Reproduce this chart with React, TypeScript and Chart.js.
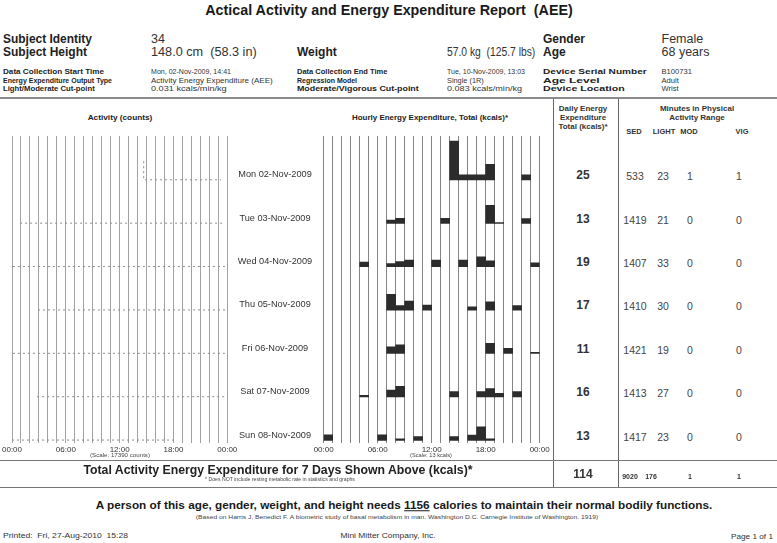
import React, { useEffect, useRef } from 'react';
import { Chart, registerables } from 'chart.js';

Chart.register(...registerables);

const FONT = '"Liberation Sans", Arial, Helvetica, sans-serif';

// ---------- data ----------
const dayLabels = [
  'Mon 02-Nov-2009',
  'Tue 03-Nov-2009',
  'Wed 04-Nov-2009',
  'Thu 05-Nov-2009',
  'Fri 06-Nov-2009',
  'Sat 07-Nov-2009',
  'Sun 08-Nov-2009',
];
const hourTickLabels = ['00:00', '06:00', '12:00', '18:00', '00:00'];

// Hourly energy expenditure: [hour of day, kcals]
const kcalMon = [[14, 13.0], [15, 1.7], [16, 1.7], [17, 1.7], [18, 5.2], [22, 1.7]];
const kcalTue = [[7, 1.1], [8, 1.7], [13, 1.7], [18, 6.0], [19, 0.3], [22, 1.6]];
const kcalWed = [[4, 1.6], [7, 1.1], [8, 1.7], [9, 2.2], [12, 2.2], [15, 2.2], [17, 3.3], [18, 2.0], [23, 1.3]];
const kcalThu = [[7, 5.3], [8, 1.5], [9, 3.0], [11, 1.7], [16, 1.1], [18, 2.8], [21, 1.5]];
const kcalFri = [[7, 2.2], [8, 2.9], [18, 3.4], [20, 1.7], [23, 0.4]];
const kcalSat = [[4, 0.5], [7, 2.3], [8, 3.5], [14, 1.8], [17, 1.8], [18, 2.8], [19, 1.2], [21, 1.8]];
const kcalSun = [[0, 1.8], [6, 1.8], [8, 0.5], [10, 1.2], [14, 1.2], [16, 1.7], [17, 4.5], [18, 0.5]];
const hourlyKcal = [kcalMon, kcalTue, kcalWed, kcalThu, kcalFri, kcalSat, kcalSun];

// Activity counts: [hour of day, counts]
const countsMon = [[14.68, 8400], [14.68, 100], [23.3, 100]];
const countsTue = [[0.9, 100], [23.5, 100]];
const countsWed = [[0.1, 100], [23.9, 100]];
const countsThu = [[2.9, 100], [23.9, 100]];
const countsFri = [[0.1, 100], [23.9, 100]];
const countsSat = [[2.8, 100], [23.9, 100]];
const countsSun = [[0.0, 100], [18.3, 100]];
const activityCounts = [countsMon, countsTue, countsWed, countsThu, countsFri, countsSat, countsSun];

const COUNT_SCALE = 17390;
const KCAL_SCALE = 13;

// Table
const dailyKcal = [25, 13, 19, 17, 11, 16, 13];
const sedMin = [533, 1419, 1407, 1410, 1421, 1413, 1417];
const lightMin = [23, 21, 33, 30, 19, 27, 23];
const modMin = [1, 0, 0, 0, 0, 0, 0];
const vigMin = [1, 0, 0, 0, 0, 0, 0];
const totalKcal = 114;
const totalSed = 9020;
const totalLight = 176;
const totalMod = 1;
const totalVig = 1;

// ---------- layout helpers ----------
const ROW = 14.46; // one day band, in kcal units
const Y_MIN = -0.9;
const Y_MAX = 6 * ROW + 14.67;
const rowBase = (d: number) => (6 - d) * ROW;
const HOURS = Array.from({ length: 24 }, (_, i) => String(i));

const PLOT_H = 307;
const AXIS_H = 14;
const DAY_Y = [175, 218.5, 262, 305, 348.5, 392, 435.5];

function xAxis(gridColor: string) {
  return {
    type: 'linear',
    min: 0,
    max: 24,
    position: 'bottom',
    offset: false,
    grid: { color: gridColor, lineWidth: 1, drawTicks: false, offset: false },
    border: { display: false },
    ticks: {
      stepSize: 1,
      autoSkip: false,
      maxRotation: 0,
      minRotation: 0,
      padding: 2,
      color: '#333',
      font: { family: FONT, size: 8 },
      callback: (v: number) => (v % 6 === 0 ? hourTickLabels[v / 6] : ''),
    },
    afterFit: (s: any) => {
      s.height = AXIS_H;
    },
  };
}

const yAxis = { type: 'linear', min: Y_MIN, max: Y_MAX, display: false };

let measureCtx: CanvasRenderingContext2D | null = null;
function measure(text: string, size: number, bold?: boolean) {
  if (!measureCtx) measureCtx = document.createElement('canvas').getContext('2d');
  if (!measureCtx) return 0;
  measureCtx.font = `${bold ? 'bold ' : ''}${size}px ${FONT}`;
  return measureCtx.measureText(text).width;
}

type TP = {
  x: number;
  y: number;
  s: number;
  b?: boolean;
  a?: 'left' | 'center' | 'right';
  c?: string;
  w?: number;
  text?: string;
  children: React.ReactNode;
};
const T = ({ x, y, s, b, a = 'left', c = '#222', w, text, children }: TP) => {
  let k = 1;
  if (w) {
    const str = text ?? (typeof children === 'string' ? children : String(children));
    const m = measure(str, s, b);
    if (m > 0) k = w / m;
  }
  const tx = a === 'center' ? '-50%' : a === 'right' ? '-100%' : '0';
  const origin = a === 'center' ? '50% 50%' : a === 'right' ? '100% 50%' : '0 50%';
  return (
    <div
      style={{
        position: 'absolute',
        left: x,
        top: y,
        fontSize: s,
        fontWeight: b ? 'bold' : 'normal',
        color: c,
        whiteSpace: 'pre',
        lineHeight: 1,
        fontFamily: FONT,
        transformOrigin: origin,
        transform: `translate(${tx}, -50%) scaleX(${k})`,
      }}
    >
      {children}
    </div>
  );
};

const HLine = ({ y, x1, x2, w = 1, c = '#777' }: any) => (
  <div style={{ position: 'absolute', left: x1, top: y, width: x2 - x1, height: w, background: c }} />
);
const VLine = ({ x, y1, y2, w = 1, c = '#777' }: any) => (
  <div style={{ position: 'absolute', left: x, top: y1, width: w, height: y2 - y1, background: c }} />
);

const BMR_TEXT =
  'A person of this age, gender, weight, and height needs 1156 calories to maintain their normal bodily functions.';

export default function App() {
  const leftRef = useRef<HTMLCanvasElement>(null);
  const rightRef = useRef<HTMLCanvasElement>(null);

  useEffect(() => {
    const left = new Chart(leftRef.current as HTMLCanvasElement, {
      type: 'line',
      data: {
        datasets: activityCounts.map((pts, d) => ({
          label: dayLabels[d],
          data: pts.map(([h, c]) => ({ x: h, y: rowBase(d) + (c / COUNT_SCALE) * KCAL_SCALE })),
          borderColor: '#8d8d8d',
          borderWidth: 1,
          borderDash: [2, 3],
          pointRadius: 0,
          tension: 0,
          fill: false,
        })),
      },
      options: {
        animation: false,
        responsive: false,
        devicePixelRatio: 1,
        layout: { padding: { left: 11.7, right: 240 - 227.3, top: 0, bottom: 0 } },
        plugins: { legend: { display: false }, tooltip: { enabled: false } },
        scales: { x: xAxis('#a2a2a2'), y: yAxis } as any,
      },
    } as any);

    const right = new Chart(rightRef.current as HTMLCanvasElement, {
      type: 'bar',
      data: {
        labels: HOURS,
        datasets: hourlyKcal.map((pairs, d) => ({
          label: dayLabels[d],
          xAxisID: 'xb',
          yAxisID: 'y',
          data: HOURS.map((_, h) => {
            const p = pairs.find((q) => q[0] === h);
            return p ? [rowBase(d), rowBase(d) + p[1]] : null;
          }),
          backgroundColor: '#2c2c2c',
          borderWidth: 0,
          barPercentage: 1,
          categoryPercentage: 1,
          grouped: false,
        })),
      },
      options: {
        animation: false,
        responsive: false,
        devicePixelRatio: 1,
        layout: { padding: { left: 13.67, right: 245 - 229.67, top: 0, bottom: 0 } },
        plugins: { legend: { display: false }, tooltip: { enabled: false } },
        scales: {
          x: xAxis('#858585'),
          xb: { type: 'category', display: false, offset: true, grid: { offset: true } },
          y: yAxis,
        } as any,
      },
    } as any);

    return () => {
      left.destroy();
      right.destroy();
    };
  }, []);

  return (
    <div
      style={{
        position: 'absolute',
        left: 0,
        top: 0,
        width: 777,
        height: 543,
        background: '#fff',
        overflow: 'hidden',
        fontFamily: FONT,
      }}
    >
      {/* Title */}
      <T x={388.9} y={10} s={14.3} b a="center" c="#1a1a1a" w={368}>
        Actical Activity and Energy Expenditure Report  (AEE)
      </T>

      {/* Subject block */}
      <T x={3} y={38.5} s={12} b w={89}>Subject Identity</T>
      <T x={3} y={52} s={12} b>Subject Height</T>
      <T x={151} y={38.5} s={12.5} c="#333">34</T>
      <T x={151} y={52} s={12.5} c="#333" w={105.7}>148.0 cm  (58.3 in)</T>
      <T x={297} y={52} s={12} b>Weight</T>
      <T x={446.7} y={52} s={12.5} c="#333" w={88.3}>57.0 kg  (125.7 lbs)</T>
      <T x={543} y={38.5} s={12} b>Gender</T>
      <T x={543} y={52} s={12} b>Age</T>
      <T x={661.5} y={38.5} s={12.5} c="#333">Female</T>
      <T x={661.5} y={52} s={12.5} c="#333">68 years</T>

      {/* Details */}
      <T x={3} y={72} s={8} b w={101}>Data Collection Start Time</T>
      <T x={3} y={80.7} s={8} b w={109}>Energy Expenditure Output Type</T>
      <T x={3} y={89.3} s={8} b w={91.7}>Light/Moderate Cut-point</T>
      <T x={151} y={72} s={7.2} c="#333" w={80}>Mon, 02-Nov-2009, 14:41</T>
      <T x={151} y={80.7} s={7.2} c="#333" w={121.7}>Activity Energy Expenditure (AEE)</T>
      <T x={151} y={89.3} s={7.2} c="#333" w={75.7}>0.031 kcals/min/kg</T>
      <T x={297} y={72} s={8} b w={90.3}>Data Collection End Time</T>
      <T x={297} y={80.7} s={8} b w={60}>Regression Model</T>
      <T x={297} y={89.3} s={8} b w={121.7}>Moderate/Vigorous Cut-point</T>
      <T x={446.7} y={72} s={7.2} c="#333" w={78}>Tue, 10-Nov-2009, 13:03</T>
      <T x={446.7} y={80.7} s={7.2} c="#333" w={36.7}>Single (1R)</T>
      <T x={446.7} y={89.3} s={7.2} c="#333" w={75}>0.083 kcals/min/kg</T>
      <T x={543} y={72} s={8} b w={103.7}>Device Serial Number</T>
      <T x={543} y={80.7} s={8} b w={56.7}>Age Level</T>
      <T x={543} y={89.3} s={8} b w={81.7}>Device Location</T>
      <T x={661.5} y={72} s={7.6} c="#333">B100731</T>
      <T x={661.5} y={80.7} s={7.6} c="#333">Adult</T>
      <T x={661.5} y={89.3} s={7.6} c="#333">Wrist</T>

      {/* Separators */}
      <HLine y={97} x1={0} x2={777} w={2} c="#8a8a8a" />
      <VLine x={553} y1={99} y2={487} c="#666" />
      <VLine x={618} y1={99} y2={487} c="#666" />
      <HLine y={460} x1={0} x2={777} c="#777" />
      <HLine y={487} x1={0} x2={777} c="#777" />

      {/* Panel headers */}
      <T x={120} y={118.3} s={8} b a="center" w={64.7}>Activity (counts)</T>
      <T x={429.7} y={118.3} s={8} b a="center" w={156}>Hourly Energy Expenditure, Total (kcals)*</T>

      {/* Charts */}
      <canvas
        ref={leftRef}
        width={240}
        height={PLOT_H + AXIS_H}
        style={{ position: 'absolute', left: 0, top: 136, width: 240, height: PLOT_H + AXIS_H }}
      />
      <canvas
        ref={rightRef}
        width={245}
        height={PLOT_H + AXIS_H}
        style={{ position: 'absolute', left: 310, top: 136, width: 245, height: PLOT_H + AXIS_H }}
      />

      {/* Day labels */}
      {dayLabels.map((d, i) => (
        <T key={d} x={275} y={DAY_Y[i]} s={9.2} a="center" c="#333">
          {d}
        </T>
      ))}

      <T x={120} y={456} s={5.5} a="center" c="#444" w={60}>(Scale: 17390 counts)</T>
      <T x={431} y={456} s={5.5} a="center" c="#444" w={42}>(Scale: 13 kcals)</T>

      {/* Table header */}
      <T x={583} y={109} s={8} b a="center" c="#333">Daily Energy</T>
      <T x={583} y={117.7} s={8} b a="center" c="#333">Expenditure</T>
      <T x={583} y={126.7} s={8} b a="center" c="#333">Total (kcals)*</T>
      <T x={697} y={109} s={8} b a="center" c="#333">Minutes in Physical</T>
      <T x={697} y={117.7} s={8} b a="center" c="#333">Activity Range</T>
      <T x={634} y={132.3} s={7.5} b a="center" c="#333">SED</T>
      <T x={664} y={132.3} s={7.5} b a="center" c="#333">LIGHT</T>
      <T x={689} y={132.3} s={7.5} b a="center" c="#333">MOD</T>
      <T x={742} y={132.3} s={7.5} b a="center" c="#333">VIG</T>

      {dailyKcal.map((v, i) => (
        <React.Fragment key={i}>
          <T x={583} y={DAY_Y[i]} s={12} b a="center" c="#333">{String(v)}</T>
          <T x={635} y={DAY_Y[i] + 1} s={10.5} a="center" c="#444">{String(sedMin[i])}</T>
          <T x={663} y={DAY_Y[i] + 1} s={10.5} a="center" c="#444">{String(lightMin[i])}</T>
          <T x={690} y={DAY_Y[i] + 1} s={10.5} a="center" c="#444">{String(modMin[i])}</T>
          <T x={739} y={DAY_Y[i] + 1} s={10.5} a="center" c="#444">{String(vigMin[i])}</T>
        </React.Fragment>
      ))}

      {/* Totals */}
      <T x={278} y={470} s={12} b a="center" w={390}>
        Total Activity Energy Expenditure for 7 Days Shown Above (kcals)*
      </T>
      <T x={280} y={478.5} s={5} a="center" c="#444" w={150}>
        * Does NOT include resting metabolic rate in statistics and graphs
      </T>
      <T x={583} y={474} s={12} b a="center" c="#333">{String(totalKcal)}</T>
      <T x={630} y={475.5} s={7} b a="center" c="#333">{String(totalSed)}</T>
      <T x={651} y={475.5} s={7} b a="center" c="#333">{String(totalLight)}</T>
      <T x={690} y={475.5} s={7} b a="center" c="#333">{String(totalMod)}</T>
      <T x={739} y={475.5} s={7} b a="center" c="#333">{String(totalVig)}</T>

      {/* BMR sentence */}
      <T x={403.5} y={506} s={11.5} b a="center" c="#1a1a1a" w={617} text={BMR_TEXT}>
        A person of this age, gender, weight, and height needs{' '}
        <span style={{ textDecoration: 'underline' }}>1156</span> calories to maintain their normal bodily functions.
      </T>
      <T x={396.5} y={517} s={6} a="center" c="#444" w={403}>
        (Based on Harris J, Benedict F. A biometric study of basal metabolism in man. Washington D.C. Carnegie Institute of Washington. 1919)
      </T>

      {/* Footer */}
      <T x={3} y={536} s={7.5} c="#333" w={125}>Printed:  Fri, 27-Aug-2010  15:28</T>
      <T x={388} y={536} s={7.5} a="center" c="#333" w={95}>Mini Mitter Company, Inc.</T>
      <T x={773} y={536.5} s={7.5} a="right" c="#333" w={42}>Page 1 of 1</T>
    </div>
  );
}
